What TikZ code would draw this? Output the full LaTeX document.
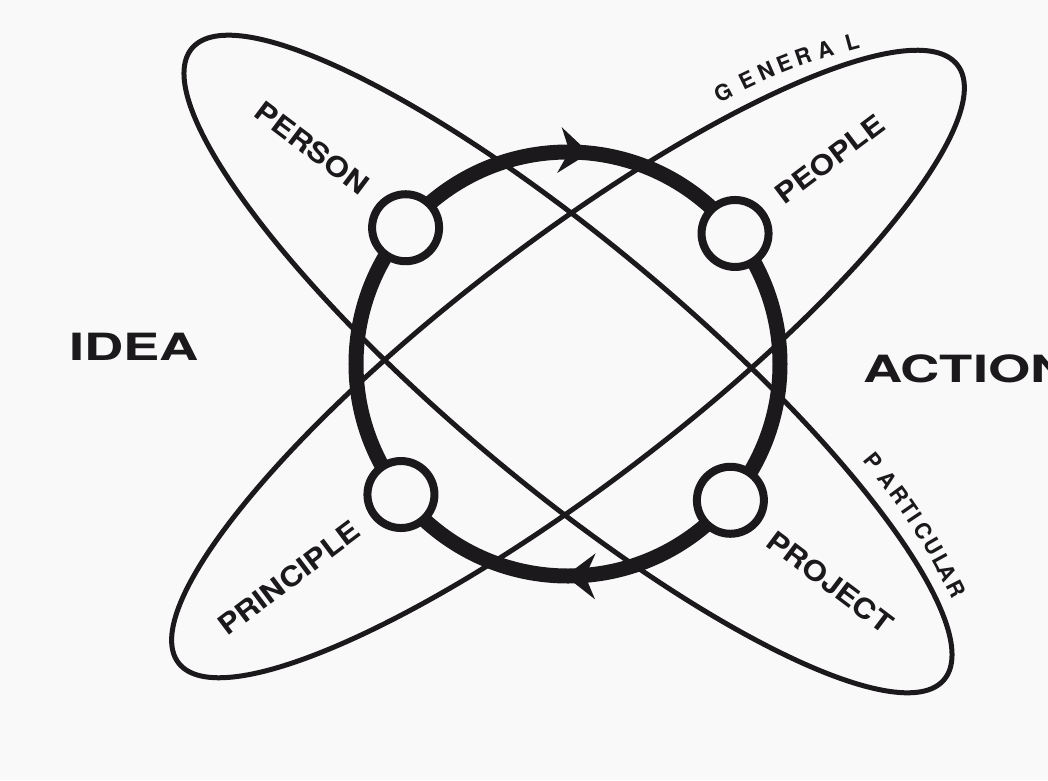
\documentclass[tikz,border=0pt]{standalone}
\usepackage{fontspec}
\setmainfont{TeX Gyre Heros}
\newfontfamily\polefont{TeX Gyre Heros}[FakeStretch=1.45]
\newfontfamily\stationfont{TeX Gyre Heros}[FakeStretch=1.15]
\usetikzlibrary{arrows.meta,decorations.markings}
\definecolor{ink}{RGB}{28,25,28}
\definecolor{paper}{RGB}{249,249,249}
\tikzset{
  % --- curves ----------------------------------------------------------
  orbit/.style   ={draw=ink, line width=5pt},
  ring/.style    ={draw=ink, line width=15pt},
  ringtip/.tip   ={Stealth[length=30pt, width=46pt, inset=10pt, line width=0pt]},
  % --- nodes -----------------------------------------------------------
  hub/.style     ={circle, draw=ink, line width=8pt, fill=paper,
                   minimum size=67pt, inner sep=0pt},
  bigword/.style ={font=\polefont\bfseries\fontsize{37.5}{40}\selectfont,
                   text=ink, inner sep=0pt},
  word/.style    ={font=\stationfont\bfseries\fontsize{27.5}{30}\selectfont,
                   text=ink, inner sep=0pt},
  edgeword/.style={font=\bfseries\fontsize{22}{24}\selectfont,
                   text=ink, inner sep=0pt},
}

\begin{document}
\begin{tikzpicture}[x=1pt, y=1pt]

  % ============================= page =============================
  \useasboundingbox (-568,-416) rectangle (480,364);
  \clip (-568,-416) rectangle (480,364);
  \fill[paper] (-568,-416) rectangle (480,364);

  % ============================= the two orbits =============================
  \draw[orbit, rotate=-40]  (0,0) ellipse[x radius=491, y radius=120];
  \draw[orbit, rotate=37.5] (0,0) ellipse[x radius=491, y radius=120];

  % ============================= the cycle (clockwise) =============================
  \draw[ring, postaction={decorate}, decoration={markings,
      mark=at position 0.234 with {\arrowreversed{ringtip}},
      mark=at position 0.748 with {\arrowreversed{ringtip}}}]
    (0,0) circle[radius=212];

  % ----- stations on the cycle -----
  \node[hub] (person)    at (140:212) {};
  \node[hub] (people)    at (38:212)  {};
  \node[hub] (principle) at (218:212) {};
  \node[hub] (project)   at (-40:212) {};

  % ----- station names -----
  \node[word, rotate=-37] (wperson)    at (-256,216)  {PERSON};
  \node[word, rotate=37]  (wpeople)    at (262,205)   {PEOPLE};
  \node[word, rotate=37]  (wprinciple) at (-279,-214) {PRINCIPLE};
  \node[word, rotate=-37] (wproject)   at (262,-218)  {PROJECT};

  % ============================= poles =============================
  \node[bigword] (idea) at (-434,17.5) {IDEA};
  \node[bigword, anchor=west] (action) at (295,-5) {ACTION};

  % ============================= words along the orbits =============================
  \coordinate (gen-s) at (155,272);
  \coordinate (gen-e) at (284,322);
  \foreach \ch/\p [count=\i] in {G/0,E/.175,N/.33,E/.485,R/.643,A/.815,L/1}
    \path (gen-s) to[bend left=6] node[edgeword, sloped, pos=\p] (gen\i) {\ch} (gen-e);

  \coordinate (par-s) at (305,-97);
  \coordinate (par-e) at (388,-225);
  \foreach \ch/\p [count=\i] in {P/0,A/.14,R/.27,T/.38,I/.46,C/.57,U/.70,L/.81,A/.89,R/1}
    \path (par-s) to[bend left=6] node[edgeword, sloped, pos=\p] (par\i) {\ch} (par-e);

\end{tikzpicture}
\end{document}
